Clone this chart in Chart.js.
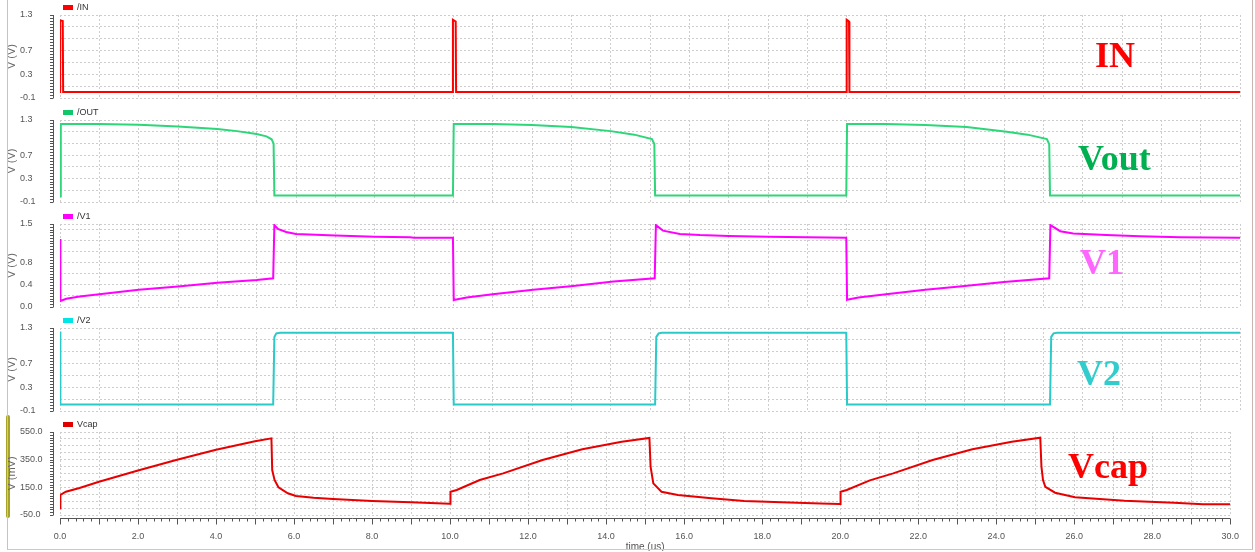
<!DOCTYPE html>
<html>
<head>
<meta charset="utf-8">
<title>Transient waveforms</title>
<script src="https://cdn.jsdelivr.net/npm/chart.js@4.4.1/dist/chart.umd.min.js"></script>
<style>
    html, body { margin: 0; padding: 0; background: #fff; }
    #wrap { position: relative; width: 1255px; height: 552px; overflow: hidden; }
    #wrap canvas { position: absolute; left: 0; top: 0; }
    #frame { position: absolute; left: 7px; top: -2px; width: 1244px; height: 551px;
             border-left: 1px solid #c4c4c4; border-right: 1px solid #cdb2b2; border-bottom: 1px solid #d9c4c4;
             pointer-events: none; }
    #under { position: absolute; left: 0; top: 551px; width: 1255px; height: 2px; background: #fff; }
    #sel { position: absolute; left: 6px; top: 415px; width: 4px; height: 103px; background: #a8a42a; border-radius: 2px; }
</style>
</head>
<body>
<div id="wrap">
    <div id="sel"></div>
    <div id="frame"></div>
    <div id="under"></div>
</div>
<script>
// Waveform data (time in us)
const inTime = [0, 0.005, 0.07, 0.08, 9.98, 9.99, 10.06, 10.07, 19.99, 20.0, 20.06, 20.07, 30];
const inVolt = [0, 1.21, 1.2, 0, 0, 1.22, 1.19, 0, 0, 1.22, 1.19, 0, 0];

const outTime = [0, 0.02, 1, 2, 3, 4, 4.5, 5, 5.25, 5.38, 5.43, 5.45, 9.99, 10.01, 11, 12, 13, 14, 14.6, 15.05, 15.11, 15.13,
    19.99, 20.01, 21, 22, 23.05, 24.07, 24.6, 25.09, 25.15, 25.17, 30];
const outVolt = [0, 1.23, 1.232, 1.22, 1.19, 1.145, 1.11, 1.06, 1.02, 0.97, 0.9, 0.01, 0.01, 1.23, 1.23, 1.215, 1.18, 1.11, 1.05, 0.975, 0.89, 0.01,
    0.01, 1.23, 1.23, 1.215, 1.18, 1.1, 1.05, 0.975, 0.885, 0.01, 0.01];

const v1Time = [0, 0.01, 0.16, 0.5, 1, 2, 3, 4, 5, 5.42, 5.45, 5.54, 5.75, 6, 7, 8, 8.9, 9, 9.99,
    10.01, 10.34, 11, 12.03, 13.05, 14.07, 15.12, 15.15, 15.33, 15.76, 16.27, 17, 18, 19, 19.99,
    20.01, 20.3, 21, 22, 23, 24, 25.15, 25.18, 25.43, 25.76, 26.6, 27.46, 28.48, 30];
const v1Volt = [1.23, 0.11, 0.15, 0.19, 0.23, 0.31, 0.37, 0.44, 0.49, 0.52, 1.48, 1.41, 1.355, 1.32, 1.29, 1.27, 1.26, 1.25, 1.25,
    0.126, 0.17, 0.23, 0.31, 0.38, 0.46, 0.52, 1.48, 1.38, 1.32, 1.3, 1.285, 1.27, 1.26, 1.25,
    0.13, 0.17, 0.23, 0.31, 0.38, 0.45, 0.52, 1.48, 1.37, 1.33, 1.3, 1.28, 1.26, 1.25];

const v2Time = [0, 0.01, 5.42, 5.45, 5.5, 5.6, 9.99, 10.01, 15.13, 15.16, 15.22, 15.3, 19.99, 20.01, 25.17, 25.2, 25.26, 25.35, 30];
const v2Volt = [1.24, 0.01, 0.01, 1.15, 1.21, 1.22, 1.22, 0.01, 0.01, 1.15, 1.21, 1.22, 1.22, 0.01, 0.01, 1.15, 1.21, 1.22, 1.22];

const capTime = [0, 0.01, 0.15, 0.5, 1, 2, 3, 4, 5, 5.42, 5.44, 5.5, 5.6, 5.84, 6.05, 6.5, 7, 8, 9, 9.99,
    10.0, 10.01, 10.17, 10.76, 11.36, 12.37, 13.39, 14.4, 15.11, 15.14, 15.21, 15.42, 15.84, 16.7, 17.54, 18.5, 19.5, 19.99,
    20.0, 20.01, 20.17, 20.76, 21.36, 22.37, 23.39, 24.4, 25.13, 25.16, 25.2, 25.26, 25.51, 26.02, 27.29, 28.56, 29.3, 30];
const capMilliVolt = [-2, 95, 118, 145, 190, 272, 350, 422, 483, 504, 275, 203, 150, 107, 87, 75, 66, 52, 42, 32,
    32, 118, 131, 203, 251, 347, 425, 480, 507, 300, 179, 118, 95, 71, 51, 42, 33, 30,
    30, 118, 131, 200, 251, 347, 425, 480, 509, 300, 203, 154, 111, 78, 53, 39, 28, 27];

// Tick labels
const voltTicks = [-0.1, 0.3, 0.7, 1.3];
const v1Ticks = [0.0, 0.4, 0.8, 1.5];
const capTicks = [-50, 150, 350, 550];
const timeTicks = [0, 2, 4, 6, 8, 10, 12, 14, 16, 18, 20, 22, 24, 26, 28, 30];

const panels = [
    { name: '/IN', t: inTime, v: inVolt, min: -0.1, max: 1.3, grid: 0.2, minor: 0.05, labels: voltTicks, unit: 'V (V)',
      line: '#ff0000', swatch: '#ff0000', big: 'IN', bigColor: '#ff0000', top: 15, bottom: 98, bigX: 1095, bigY: 67 },
    { name: '/OUT', t: outTime, v: outVolt, min: -0.1, max: 1.3, grid: 0.2, minor: 0.05, labels: voltTicks, unit: 'V (V)',
      line: '#2ed67a', swatch: '#12c76a', big: 'Vout', bigColor: '#00b050', top: 120, bottom: 202, bigX: 1078, bigY: 170 },
    { name: '/V1', t: v1Time, v: v1Volt, min: 0, max: 1.5, grid: 0.2, minor: 0.05, labels: v1Ticks, unit: 'V (V)',
      line: '#ff00ff', swatch: '#ff00ff', big: 'V1', bigColor: '#ff66ff', top: 224, bottom: 307, bigX: 1080, bigY: 274 },
    { name: '/V2', t: v2Time, v: v2Volt, min: -0.1, max: 1.3, grid: 0.2, minor: 0.05, labels: voltTicks, unit: 'V (V)',
      line: '#2cc9c9', swatch: '#00e5e5', big: 'V2', bigColor: '#33cccc', top: 328, bottom: 411, bigX: 1077, bigY: 385 },
    { name: 'Vcap', t: capTime, v: capMilliVolt, min: -50, max: 550, grid: 50, minor: 20, labels: capTicks, unit: 'V (mV)',
      line: '#e80000', swatch: '#e00000', big: 'Vcap', bigColor: '#ff0000', top: 432, bottom: 515, bigX: 1068, bigY: 478, timeAxis: true }
];

const W = 1255, H = 552, LABEL_LEFT = 20, PLOT_LEFT = 60, PLOT_RIGHT = 1240, X_AXIS_H = 37;
const near = (a, b) => Math.abs(a - b) < 1e-6;
const tickFont = { family: '"Liberation Sans", Arial, sans-serif', size: 9 };

// Rulers, legend swatch and the big label
const decorPlugin = {
    id: 'decor',
    afterDraw(chart, args, opts) {
        const p = opts.panel;
        const ctx = chart.ctx;
        const ys = chart.scales.y;
        const xs = chart.scales.x;
        const area = chart.chartArea;
        ctx.save();
        ctx.strokeStyle = '#555';
        ctx.lineWidth = 1;
        ctx.beginPath();
        ctx.moveTo(53.5, area.top);
        ctx.lineTo(53.5, area.bottom);
        const n = Math.round((p.max - p.min) / p.minor);
        for (let k = 0; k <= n; k++) {
            const val = p.min + k * p.minor;
            const y = Math.round(ys.getPixelForValue(val)) + 0.5;
            ctx.moveTo(50, y);
            ctx.lineTo(53.5, y);
        }
        if (p.timeAxis) {
            const yb = area.bottom + 3.5;
            ctx.moveTo(area.left, yb);
            ctx.lineTo(area.right, yb);
            for (let k = 0; k <= 150; k++) {
                const x = Math.round(xs.getPixelForValue(k * 0.2)) + 0.5;
                ctx.moveTo(x, yb);
                ctx.lineTo(x, yb + (k % 5 === 0 ? 6 : 3));
            }
        }
        ctx.stroke();

        ctx.fillStyle = p.swatch;
        ctx.fillRect(area.left + 3, area.top - 10, 10, 5);
        ctx.fillStyle = '#333';
        ctx.font = '9px "Liberation Sans", Arial, sans-serif';
        ctx.textBaseline = 'middle';
        ctx.textAlign = 'left';
        ctx.fillText(p.name, area.left + 17, area.top - 7.5);

        ctx.fillStyle = p.bigColor;
        ctx.font = 'bold 36px "Liberation Serif", "Times New Roman", serif';
        ctx.textBaseline = 'alphabetic';
        ctx.fillText(p.big, p.bigX, p.bigY);
        ctx.restore();
    }
};

const wrap = document.getElementById('wrap');

panels.forEach((p) => {
    const canvas = document.createElement('canvas');
    canvas.width = W;
    canvas.height = H;
    canvas.style.width = W + 'px';
    canvas.style.height = H + 'px';
    wrap.insertBefore(canvas, document.getElementById('frame'));

    const bottomPad = p.timeAxis ? H - p.bottom - X_AXIS_H : H - p.bottom;

    new Chart(canvas.getContext('2d'), {
        type: 'line',
        data: {
            datasets: [{
                label: p.name,
                data: p.t.map((x, i) => ({ x: x, y: p.v[i] })),
                borderColor: p.line,
                borderWidth: 2,
                pointRadius: 0,
                fill: false,
                tension: 0
            }]
        },
        options: {
            responsive: false,
            animation: false,
            devicePixelRatio: 1,
            layout: { padding: { top: p.top, bottom: bottomPad, left: LABEL_LEFT, right: W - PLOT_RIGHT } },
            plugins: {
                legend: { display: false },
                tooltip: { enabled: false },
                decor: { panel: p }
            },
            scales: {
                x: {
                    type: 'linear',
                    min: 0,
                    max: 30,
                    afterBuildTicks: (scale) => {
                        const ticks = [];
                        for (let k = 0; k <= 30; k++) ticks.push({ value: k });
                        scale.ticks = ticks;
                    },
                    afterFit: (scale) => { scale.height = p.timeAxis ? X_AXIS_H : 0; },
                    ticks: {
                        display: !!p.timeAxis,
                        autoSkip: false,
                        maxRotation: 0,
                        padding: 16,
                        color: '#555',
                        font: tickFont,
                        callback: (value) => timeTicks.some(t => near(t, value)) ? value.toFixed(1) : ''
                    },
                    grid: { color: '#cdcdcd', drawTicks: false },
                    border: { display: false, dash: [2, 2] },
                    title: {
                        display: !!p.timeAxis,
                        text: 'time (us)',
                        color: '#555',
                        padding: { top: 0, bottom: 0 },
                        font: { family: '"Liberation Sans", Arial, sans-serif', size: 10, lineHeight: 1 }
                    }
                },
                y: {
                    type: 'linear',
                    min: p.min,
                    max: p.max,
                    afterBuildTicks: (scale) => {
                        const ticks = [];
                        const n = Math.floor((p.max - p.min) / p.grid + 1e-9);
                        for (let k = 0; k <= n; k++) ticks.push({ value: +(p.min + k * p.grid).toFixed(4) });
                        if (!near(ticks[ticks.length - 1].value, p.max)) ticks.push({ value: p.max });
                        scale.ticks = ticks;
                    },
                    afterFit: (scale) => { scale.width = PLOT_LEFT - LABEL_LEFT; },
                    ticks: {
                        autoSkip: false,
                        padding: 0,
                        crossAlign: 'far',
                        color: '#555',
                        font: tickFont,
                        callback: (value) => p.labels.some(l => near(l, value)) ? value.toFixed(1) : ''
                    },
                    grid: { color: '#cdcdcd', drawTicks: false },
                    border: { display: false, dash: [2, 2] },
                    title: {
                        display: true,
                        text: p.unit,
                        color: '#666',
                        padding: { top: -14.5, bottom: 0 },
                        font: { family: '"Liberation Sans", Arial, sans-serif', size: 11 }
                    }
                }
            }
        },
        plugins: [decorPlugin]
    });
});
</script>
</body>
</html>
